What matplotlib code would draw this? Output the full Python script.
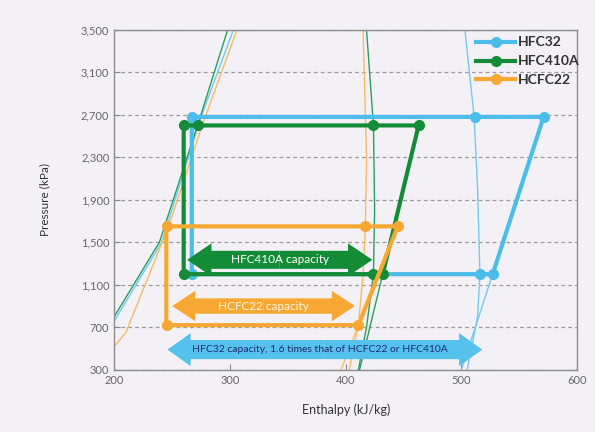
import matplotlib
matplotlib.use("Agg")
import matplotlib.pyplot as plt
from matplotlib.patches import FancyArrow
from matplotlib.lines import Line2D
from matplotlib.ticker import FuncFormatter

plt.rcParams['font.family'] = ['Lato', 'DejaVu Sans']

# ---------------- data ----------------
x_ticks = [200, 300, 400, 500, 600]
y_ticks = [300, 700, 1100, 1500, 1900, 2300, 2700, 3100, 3500]

# refrigeration cycles (enthalpy kJ/kg, pressure kPa)
hfc32_cycle_h = [267, 267, 571, 527, 267]
hfc32_cycle_p = [1200, 2680, 2680, 1200, 1200]
hfc32_pts_h = [267, 512, 571, 267, 516, 527]
hfc32_pts_p = [2680, 2680, 2680, 1200, 1200, 1200]

hfc410a_cycle_h = [260, 260, 463, 432, 260]
hfc410a_cycle_p = [1200, 2600, 2600, 1200, 1200]
hfc410a_pts_h = [260, 272, 424, 463, 260, 424, 432]
hfc410a_pts_p = [2600, 2600, 2600, 2600, 1200, 1200, 1200]

hcfc22_cycle_h = [245, 245, 445, 411, 245]
hcfc22_cycle_p = [720, 1650, 1650, 720, 720]
hcfc22_pts_h = [246, 417, 445, 246, 411]
hcfc22_pts_p = [1650, 1650, 1650, 720, 720]

# saturation curves
hfc32_liq_h = [200, 241, 275, 303]
hfc32_liq_p = [760, 1500, 2680, 3500]
hfc32_vap_h = [505, 514, 516, 514, 511, 503]
hfc32_vap_p = [300, 800, 1200, 2000, 2680, 3500]

hfc410a_liq_h = [200, 239, 272, 298]
hfc410a_liq_p = [800, 1500, 2600, 3500]
hfc410a_vap_h = [411, 418, 424, 425, 424, 418]
hfc410a_vap_p = [300, 700, 1200, 1800, 2600, 3500]

hcfc22_liq_h = [200, 210, 247, 276, 306]
hcfc22_liq_p = [520, 650, 1650, 2600, 3500]
hcfc22_vap_h = [403, 411, 415, 417, 418, 415]
hcfc22_vap_p = [300, 720, 1200, 1650, 2300, 3500]

# compression lines extended below the cycle
hfc32_ext_h = [500, 527]
hfc32_ext_p = [300, 1200]
hfc410a_ext_h = [412, 432]
hfc410a_ext_p = [300, 1200]
hcfc22_ext_h = [396, 411]
hcfc22_ext_p = [300, 720]

# capacity arrows: (h_start, h_end, pressure)
arrow_410a = (263, 423, 1335)
arrow_22 = (250, 408, 900)
arrow_32 = (246, 518, 490)

labels = ["HFC32", "HFC410A", "HCFC22"]

# ---------------- style ----------------
BG = '#f4f1f6'
BLUE = '#4cbde9'
BLUE_THIN = '#72caee'
GREEN = '#148c37'
GREEN_THIN = '#2a9d62'
ORANGE = '#f6a833'
ORANGE_THIN = '#f8bb62'

fig = plt.figure(figsize=(5.95, 4.32), dpi=100, facecolor=BG)
ax = fig.add_axes([0.192, 0.144, 0.778, 0.787], facecolor=BG)

ax.set_xlim(200, 600)
ax.set_ylim(300, 3500)
ax.set_xticks(x_ticks)
ax.set_yticks(y_ticks)
ax.yaxis.set_major_formatter(FuncFormatter(lambda v, p: f"{int(v):,}"))
ax.tick_params(direction='in', length=4, colors='#888888', labelcolor='#666666', labelsize=8)
for s in ax.spines.values():
    s.set_color('#8c8c8c')
    s.set_linewidth(1.0)
ax.yaxis.grid(True, linestyle=(0, (3, 2.5)), color='#9a9a9a', linewidth=0.9)
ax.set_axisbelow(True)

ax.set_xlabel("Enthalpy (kJ/kg)", fontsize=9, color='#333333', labelpad=13)
ax.set_ylabel("Pressure (kPa)", fontsize=8.5, color='#333333', labelpad=22)

# thin saturation / compression lines
ax.plot(hfc32_liq_h, hfc32_liq_p, color=BLUE_THIN, lw=1.0, zorder=2)
ax.plot(hfc32_vap_h, hfc32_vap_p, color=BLUE_THIN, lw=1.0, zorder=2)
ax.plot(hfc32_ext_h, hfc32_ext_p, color=BLUE_THIN, lw=1.0, zorder=2)
ax.plot(hcfc22_liq_h, hcfc22_liq_p, color=ORANGE_THIN, lw=1.0, zorder=2)
ax.plot(hcfc22_vap_h, hcfc22_vap_p, color=ORANGE_THIN, lw=1.0, zorder=2)
ax.plot(hcfc22_ext_h, hcfc22_ext_p, color=ORANGE_THIN, lw=1.0, zorder=2)
ax.plot(hfc410a_liq_h, hfc410a_liq_p, color=GREEN_THIN, lw=1.0, zorder=2)
ax.plot(hfc410a_vap_h, hfc410a_vap_p, color=GREEN_THIN, lw=1.0, zorder=2)
ax.plot(hfc410a_ext_h, hfc410a_ext_p, color=GREEN_THIN, lw=1.0, zorder=2)

# cycles
ax.plot(hfc32_cycle_h, hfc32_cycle_p, color=BLUE, lw=3, zorder=3)
ax.plot(hfc32_pts_h, hfc32_pts_p, 'o', color=BLUE, ms=7, zorder=3)
ax.plot(hfc410a_cycle_h, hfc410a_cycle_p, color=GREEN, lw=3, zorder=4)
ax.plot(hfc410a_pts_h, hfc410a_pts_p, 'o', color=GREEN, ms=7, zorder=4)
ax.plot(hcfc22_cycle_h, hcfc22_cycle_p, color=ORANGE, lw=3, zorder=5)
ax.plot(hcfc22_pts_h, hcfc22_pts_p, 'o', color=ORANGE, ms=7, zorder=5)


def double_arrow(spec, color, body, head_w, head_l, z):
    h0, h1, p = spec
    mid = (h0 + h1) / 2
    for end in (h0, h1):
        ax.add_patch(FancyArrow(mid, p, end - mid, 0, width=body, head_width=head_w,
                                head_length=head_l, length_includes_head=True,
                                color=color, lw=0, zorder=z))
    return mid, p


m, p = double_arrow(arrow_410a, GREEN, 170, 310, 21, 6)
ax.text(m, p, "HFC410A capacity", color='white', fontsize=8.5, ha='center', va='center', zorder=7)
m, p = double_arrow(arrow_22, ORANGE, 145, 285, 20, 6)
ax.text(m, p, "HCFC22 capacity", color='#fff6e0', fontsize=8.5, ha='center', va='center', zorder=7)
m, p = double_arrow(arrow_32, '#55c2ee', 180, 310, 20, 6)
ax.text(m - 4, p, "HFC32 capacity, 1.6 times that of HCFC22 or HFC410A", color='#1c2b6e',
        fontsize=7.5, ha='center', va='center', zorder=7)

# legend
handles = [Line2D([], [], color=BLUE, lw=3, marker='o', ms=7),
           Line2D([], [], color=GREEN, lw=3, marker='o', ms=7),
           Line2D([], [], color=ORANGE, lw=3, marker='o', ms=7)]
leg = ax.legend(handles, labels, loc='upper right', bbox_to_anchor=(1.022, 1.005),
                frameon=False, fontsize=10, handlelength=2.8, handletextpad=0.15,
                labelspacing=0.5, borderaxespad=0.2, markerfirst=True)
for t in leg.get_texts():
    t.set_color('#333333')
    t.set_fontweight('bold')

fig.savefig("out.png", dpi=100, facecolor=BG)
